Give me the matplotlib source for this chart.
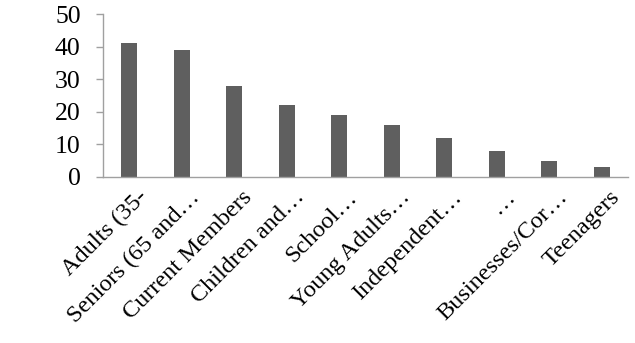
# Gráfico de barras: segmentos de público
import matplotlib.pyplot as plt
from matplotlib.transforms import ScaledTranslation

plt.rcParams['font.family'] = ['Liberation Serif', 'DejaVu Serif']

categorias = ['Adults (35-', 'Seniors (65 and\u2026', 'Current Members', 'Children and\u2026',
              'School\u2026', 'Young Adults\u2026', 'Independent\u2026', '\u2026',
              'Businesses/Cor\u2026', 'Teenagers']
valores = [41, 39, 28, 22, 19, 16, 12, 8, 5, 3]
ticks_y = [0, 10, 20, 30, 40, 50]

fig = plt.figure(figsize=(6.35, 3.43), dpi=100)
ax = fig.add_axes([0.162, 0.484, 0.827, 0.475])

x = range(len(categorias))
ax.bar(x, valores, width=0.31, color='#5f5f5f')

ax.set_xlim(-0.5, len(categorias) - 0.5)
ax.set_ylim(0, 50)
ax.set_yticks(ticks_y)
ax.set_xticks(list(x))
ax.set_xticklabels(categorias, rotation=45, ha='right', va='baseline',
                   rotation_mode='anchor', fontsize=17.5)
ax.tick_params(axis='y', labelsize=18.5, length=5, width=1, color='#a0a0a0', pad=11)
ax.tick_params(axis='x', length=0, pad=0)

# desplazamos las etiquetas rotadas como en el original
desplazamiento = ScaledTranslation(0.19, -0.21, fig.dpi_scale_trans)
for etiqueta in ax.get_xticklabels():
    etiqueta.set_transform(etiqueta.get_transform() + desplazamiento)

for lado in ['top', 'right']:
    ax.spines[lado].set_visible(False)
for lado in ['left', 'bottom']:
    ax.spines[lado].set_color('#a0a0a0')
    ax.spines[lado].set_linewidth(1)

fig.savefig('out.png', dpi=100)
